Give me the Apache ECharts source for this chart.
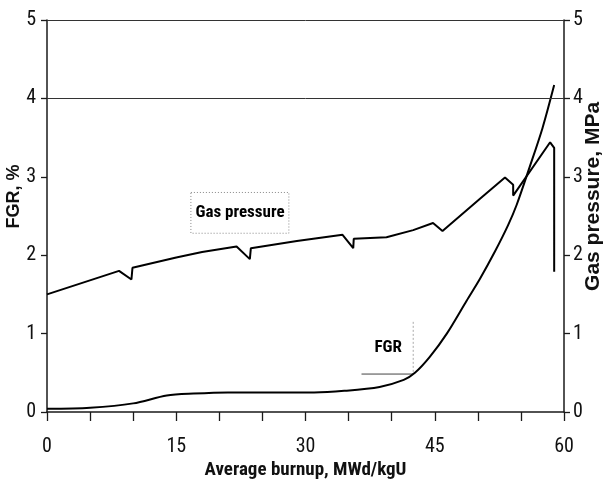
<!DOCTYPE html>
<html>
<head>
<meta charset="utf-8">
<script src="https://cdn.jsdelivr.net/npm/echarts@6/dist/echarts.min.js"></script>
<style>
  html, body { margin: 0; padding: 0; background: #fff; }
  #chart { width: 604px; height: 485px; }
</style>
</head>
<body>
<div id="chart"></div>
<script>
// Fission gas release (FGR, %) versus average burnup
const fgrBurnup = [0, 5, 10, 13.9, 17, 21, 26, 31, 34.5, 38.6, 41.4, 42.7, 44.4, 46.4, 48.7, 50.25, 52.0, 53.5, 54.5, 56.0, 57.5, 58.86];
const fgrValues = [0.04, 0.055, 0.11, 0.21, 0.235, 0.25, 0.25, 0.25, 0.27, 0.32, 0.41, 0.50, 0.70, 1.0, 1.42, 1.70, 2.05, 2.38, 2.64, 3.12, 3.62, 4.17];

// Rod internal gas pressure (MPa) versus average burnup
const gasBurnup = [0, 8.36, 9.80, 9.92, 15, 18, 22.0, 23.54, 23.66, 29, 34.3, 35.54, 35.6, 39.4, 42.5, 44.8, 45.9, 50.25, 53.15, 54.1, 54.1, 58.39, 58.86, 58.86];
const gasPressure = [1.50, 1.80, 1.69, 1.84, 1.97, 2.04, 2.11, 1.95, 2.09, 2.18, 2.26, 2.09, 2.21, 2.23, 2.32, 2.41, 2.31, 2.72, 2.99, 2.90, 2.76, 3.44, 3.37, 1.79];

// Axis ticks and titles
const burnupTicks = [0, 15, 30, 45, 60];
const leftTicks = [0, 1, 2, 3, 4, 5];
const rightTicks = [0, 1, 2, 3, 4, 5];
const xTitle = 'Average burnup, MWd/kgU';
const leftTitle = 'FGR, %';
const rightTitle = 'Gas pressure, MPa';

const narrow = '"Roboto Condensed", "Noto Sans Condensed", "Liberation Sans Narrow", "Arial Narrow", "DejaVu Sans Condensed", sans-serif';
const wide = '"Liberation Sans", Arial, sans-serif';

const chart = echarts.init(document.getElementById('chart'), null, { renderer: 'canvas' });

function pairs(xs, ys) { return xs.map((x, i) => [x, ys[i]]); }

const axisLine = { show: true, lineStyle: { color: '#1a1a1a', width: 1.5 } };
const tickStyle = { color: '#1a1a1a', width: 1.3 };

const option = {
  animation: false,
  backgroundColor: '#ffffff',
  grid: { left: 47, right: 40, top: 20, bottom: 73, containLabel: false, outerBoundsMode: 'none' },
  xAxis: {
    type: 'value', min: 0, max: 60, interval: 5,
    axisLine: axisLine,
    axisTick: { show: true, length: 9, lineStyle: tickStyle },
    splitLine: { show: false },
    axisLabel: {
      margin: 25, fontSize: 20, color: '#111', fontFamily: narrow,
      formatter: v => burnupTicks.includes(v) ? String(v) : ''
    }
  },
  yAxis: [
    {
      type: 'value', min: 0, max: 5, interval: 1, position: 'left',
      axisLine: axisLine,
      axisTick: { show: true, length: 6, lineStyle: tickStyle },
      splitLine: { show: false },
      axisLabel: { margin: 11, fontSize: 20, color: '#111', fontFamily: narrow,
        formatter: v => leftTicks.includes(v) ? String(v) : '' }
    },
    {
      type: 'value', min: 0, max: 5, interval: 1, position: 'right',
      axisLine: axisLine,
      axisTick: { show: true, length: 6, lineStyle: tickStyle },
      splitLine: { show: false },
      axisLabel: { margin: 9, fontSize: 20, color: '#111', fontFamily: narrow,
        formatter: v => rightTicks.includes(v) ? String(v) : '' }
    }
  ],
  series: [
    {
      name: 'FGR', type: 'line', yAxisIndex: 0,
      data: pairs(fgrBurnup, fgrValues),
      showSymbol: false, smooth: 0.3,
      lineStyle: { color: '#000', width: 2 },
      markLine: {
        silent: true, symbol: 'none', label: { show: false },
        lineStyle: { color: '#333', width: 1, type: 'solid' },
        data: [{ yAxis: 4 }, { yAxis: 5 }]
      }
    },
    {
      name: 'Gas pressure', type: 'line', yAxisIndex: 1,
      data: pairs(gasBurnup, gasPressure),
      showSymbol: false,
      lineStyle: { color: '#000', width: 2 }
    }
  ]
};

chart.setOption(option);

// Annotations and axis titles, placed from the axes' own coordinate mapping
function px(x, y) {
  return chart.convertToPixel({ xAxisIndex: 0, yAxisIndex: 0 }, [x, y]);
}
const origin = px(0, 0), far = px(60, 5);
const midX = (origin[0] + far[0]) / 2;
const boxTL = px(16.7, 2.80), boxBR = px(28.07, 2.28);
const gasText = px(22.4, 2.54);
const fgrText = px(39.6, 0.82);
const fgrLineL = px(36.5, 0.484), fgrLineR = px(42.5, 0.484);
const fgrTick = px(42.5, 1.15);
const titleMidY = px(0, 2.75)[1];

chart.setOption({
  graphic: [
    {
      type: 'rect', silent: true,
      shape: { x: boxTL[0], y: boxTL[1], width: boxBR[0] - boxTL[0], height: boxBR[1] - boxTL[1] },
      style: { fill: 'none', stroke: '#888', lineWidth: 1, lineDash: [1, 2] }
    },
    {
      type: 'text', silent: true, x: gasText[0], y: gasText[1],
      style: { text: 'Gas pressure', fill: '#000', font: 'bold 17px ' + narrow, align: 'center', verticalAlign: 'middle' }
    },
    {
      type: 'text', silent: true, x: fgrText[0], y: fgrText[1],
      style: { text: 'FGR', fill: '#000', font: 'bold 17px ' + narrow, align: 'center', verticalAlign: 'middle' }
    },
    {
      type: 'line', silent: true,
      shape: { x1: fgrLineL[0], y1: fgrLineL[1], x2: fgrLineR[0], y2: fgrLineR[1] },
      style: { stroke: '#444', lineWidth: 1 }
    },
    {
      type: 'line', silent: true,
      shape: { x1: fgrTick[0], y1: fgrTick[1], x2: fgrLineR[0], y2: fgrLineR[1] },
      style: { stroke: '#aaa', lineWidth: 1, lineDash: [2, 2] }
    },
    {
      type: 'text', silent: true, x: midX, y: origin[1] + 58,
      style: { text: xTitle, fill: '#111', font: 'bold 19px ' + narrow, align: 'center', verticalAlign: 'middle' }
    },
    {
      type: 'text', silent: true, x: origin[0] - 33, y: titleMidY, rotation: Math.PI / 2,
      style: { text: leftTitle, fill: '#111', font: 'bold 18px ' + wide, align: 'center', verticalAlign: 'middle' }
    },
    {
      type: 'text', silent: true, x: far[0] + 29, y: titleMidY, rotation: Math.PI / 2,
      style: { text: rightTitle, fill: '#111', font: 'bold 21px ' + wide, align: 'center', verticalAlign: 'middle' }
    }
  ]
});
</script>
</body>
</html>
